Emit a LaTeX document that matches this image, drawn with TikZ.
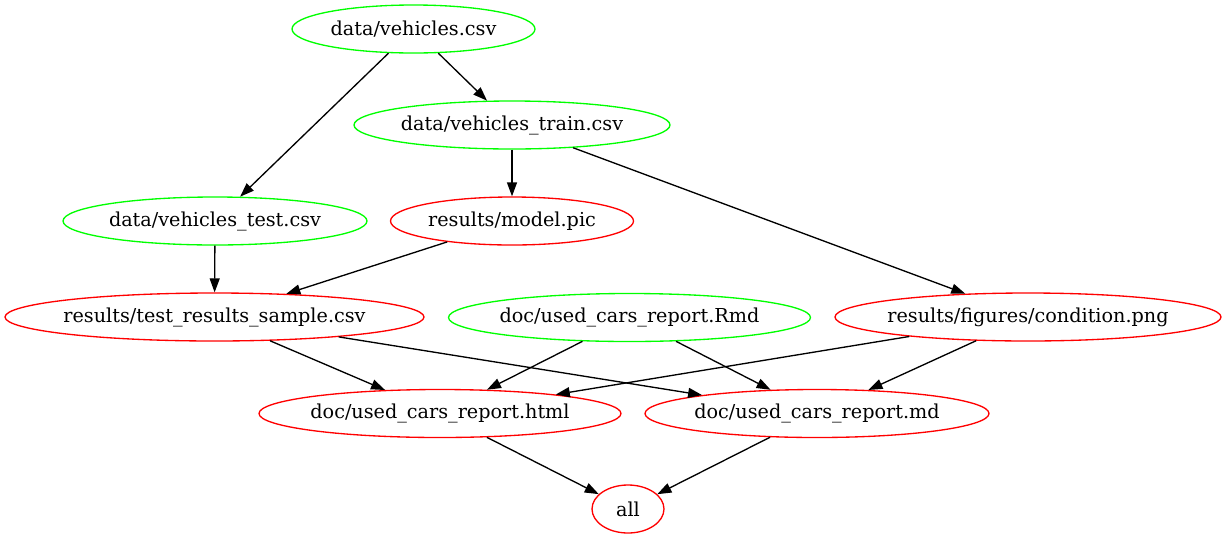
\documentclass[tikz,border=0pt]{standalone}
\usepackage{fontspec}
\setmainfont{DejaVu Serif}
\usetikzlibrary{shapes.geometric,arrows.meta}
\definecolor{gvgreen}{RGB}{0,255,0}
\definecolor{gvred}{RGB}{255,0,0}
\newcommand{\lbl}[1]{\makebox[0pt][c]{#1}}
\tikzset{
  filenode/.style={ellipse, draw, line width=1.33pt, inner sep=0pt, minimum height=48pt,
    font=\fontsize{19.2}{22}\selectfont},
  srcnode/.style={filenode, draw=gvgreen},
  outnode/.style={filenode, draw=gvred},
  edgeline/.style={draw=black, line width=1.33pt, -{Triangle[length=14pt, width=10pt]}}
}
\begin{document}
\begin{tikzpicture}[x=1pt, y=-1pt]
\useasboundingbox (0,0) rectangle (1227,539);
\node[srcnode, minimum width=243pt] (veh) at (413.5,29) {\lbl{data/vehicles.csv}};
\node[srcnode, minimum width=316pt] (train) at (512,125) {\lbl{data/vehicles\_train.csv}};
\node[srcnode, minimum width=304pt] (test) at (215,221) {\lbl{data/vehicles\_test.csv}};
\node[outnode, minimum width=243pt] (model) at (512,221) {\lbl{results/model.pic}};
\node[outnode, minimum width=419pt] (tres) at (214.5,317) {\lbl{results/test\_results\_sample.csv}};
\node[srcnode, minimum width=362pt] (rmd) at (629.5,317.5) {\lbl{doc/used\_cars\_report.Rmd}};
\node[outnode, minimum width=386pt] (cond) at (1028,317) {\lbl{results/figures/condition.png}};
\node[outnode, minimum width=362pt] (html) at (440,413.5) {\lbl{doc/used\_cars\_report.html}};
\node[outnode, minimum width=344pt] (md) at (817,413.5) {\lbl{doc/used\_cars\_report.md}};
\node[outnode, minimum width=72pt] (all) at (628,509) {\lbl{all}};
\draw[edgeline] (veh) -- (train);
\draw[edgeline] (veh) -- (test);
\draw[edgeline] (train) -- (model);
\draw[edgeline] (train) -- (cond);
\draw[edgeline] (test) -- (tres);
\draw[edgeline] (model) -- (tres);
\draw[edgeline] (tres) -- (html);
\draw[edgeline] (tres) -- (md);
\draw[edgeline] (rmd) -- (html);
\draw[edgeline] (rmd) -- (md);
\draw[edgeline] (cond) -- (html);
\draw[edgeline] (cond) -- (md);
\draw[edgeline] (html) -- (all);
\draw[edgeline] (md) -- (all);
\end{tikzpicture}
\end{document}
